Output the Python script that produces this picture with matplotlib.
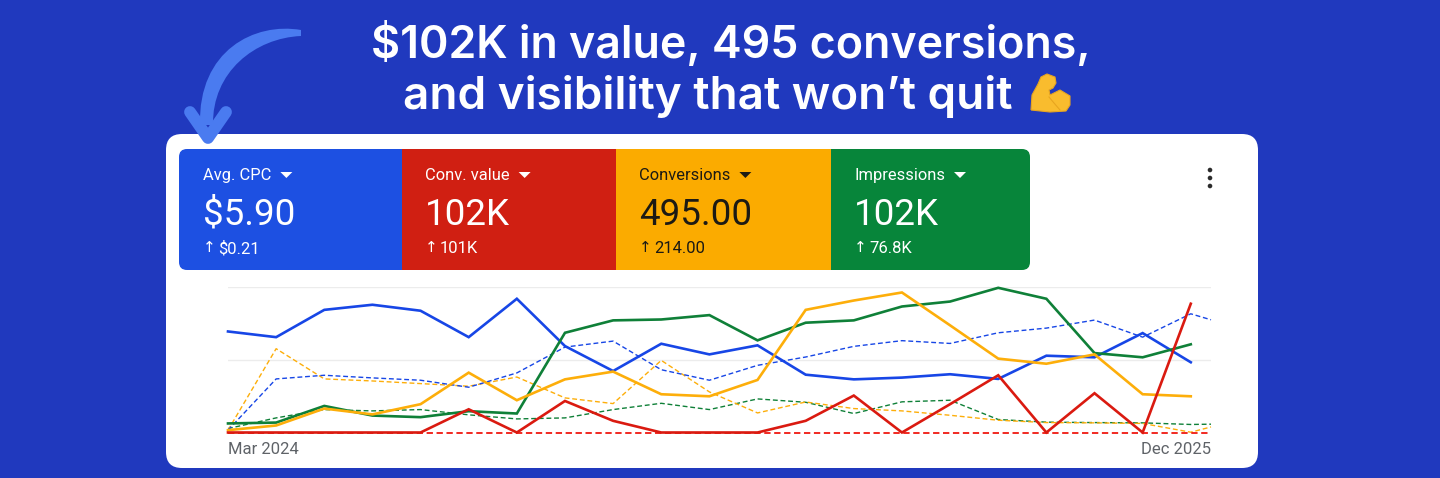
import matplotlib
matplotlib.use('Agg')
import matplotlib.pyplot as plt
from matplotlib.patches import FancyBboxPatch, Rectangle, Polygon, PathPatch, Circle
from matplotlib.path import Path

# chart series, 0-100 of the chart height
months = list(range(21))
extra_x = 20.42
blue = [69.2, 65.3, 84.0, 87.5, 83.4, 65.3, 91.6, 59.2, 42.1, 60.8, 53.5, 59.7, 39.6, 36.4, 37.6, 39.9, 36.7, 52.6, 51.5, 68.1, 48.1]
red = [0, 0, 0, 0, 0, 15.9, 0, 21.6, 8.0, 0, 0, 0, 8.0, 25.3, 0, 19.4, 39.2, 0, 26.9, 0, 88.2]
orange = [1.6, 4.8, 16.4, 12.4, 19.4, 41.0, 22.1, 36.4, 41.7, 26.2, 24.8, 36.0, 84.0, 90.4, 95.9, 73.4, 50.6, 47.1, 53.5, 26.2, 24.8]
green = [6.2, 6.8, 18.2, 11.6, 10.5, 14.6, 13.0, 68.3, 76.8, 77.4, 80.4, 63.1, 75.2, 76.8, 86.3, 89.7, 99.1, 91.6, 54.4, 51.5, 60.4]
blue_prev = [1.6, 36.7, 39.2, 37.4, 35.8, 31.0, 40.8, 58.5, 62.6, 43.0, 35.8, 46.0, 51.7, 59.0, 62.9, 61.0, 68.3, 71.5, 77.0, 65.3, 81.3, 77.2]
red_prev = [0] * 22
orange_prev = [1.6, 57.4, 36.7, 35.3, 33.5, 31.7, 38.0, 23.7, 19.8, 49.4, 27.8, 13.4, 20.9, 16.4, 14.8, 11.8, 8.4, 6.8, 6.6, 6.2, 0.2, 3.8]
green_prev = [2.7, 10.0, 15.7, 14.8, 15.7, 12.1, 9.3, 10.0, 15.7, 20.0, 15.7, 23.0, 20.7, 13.0, 21.0, 22.1, 8.9, 7.1, 6.8, 6.6, 5.5, 5.7]

x_labels = ['Mar 2024', 'Dec 2025']
metric_names = ['Avg. CPC', 'Conv. value', 'Conversions', 'Impressions']
metric_values = ['$5.90', '102K', '495.00', '102K']
metric_deltas = ['$0.21', '101K', '214.00', '76.8K']

BG = '#2039BE'
BLUE = '#1D50E2'
RED = '#D01F12'
YELLOW = '#FBAB00'
GREEN = '#07853A'
LINE_BLUE = '#1746E6'
LINE_RED = '#DA1A10'
LINE_YELLOW = '#FDAE0A'
LINE_GREEN = '#0F8038'
FONT = ['Roboto', 'DejaVu Sans']

fig = plt.figure(figsize=(14.4, 4.78), dpi=100, facecolor=BG)
bg = fig.add_axes([0, 0, 1, 1])
bg.set_xlim(0, 1440)
bg.set_ylim(478, 0)
bg.axis('off')

# white card
bg.add_patch(FancyBboxPatch((166, 134), 1092, 334, boxstyle='round,pad=0,rounding_size=16',
                            fc='white', ec='none', zorder=1))

# title
bg.text(731, 44, '$102K in value, 495 conversions,', color='white', fontsize=32.2, fontweight='semibold',
        family='Inter', ha='center', va='center', zorder=3)
bg.text(708, 96, 'and visibility that won’t quit', color='white', fontsize=33, fontweight='semibold',
        family='Inter', ha='center', va='center', zorder=3)

# metric tiles
tile_left = [179, 402, 616, 831]
tile_right = [402, 616, 831, 1030]
tile_colors = [BLUE, RED, YELLOW, GREEN]
tile_text = ['white', 'white', '#1c1a14', 'white']
text_x = [203, 425, 639, 854]
clip = FancyBboxPatch((179, 149), 851, 121, boxstyle='round,pad=0,rounding_size=8',
                      fc='none', ec='none', transform=bg.transData)
bg.add_patch(clip)
for i in range(4):
    r = Rectangle((tile_left[i], 149), tile_right[i] - tile_left[i], 121, fc=tile_colors[i], ec='none', zorder=2)
    bg.add_patch(r)
    r.set_clip_path(clip)
    tx = text_x[i]
    c = tile_text[i]
    nm = bg.text(tx, 175.5, metric_names[i], color=c, fontsize=11.9, family=FONT, va='center', zorder=3)
    bg.text(tx, 215, metric_values[i], color=c, fontsize=26.5, family=FONT, va='center', zorder=3)
    bg.text(tx, 248, '↑', color=c, fontsize=11, family=FONT, va='center', zorder=3)
    bg.text(tx + 15, 248.5, metric_deltas[i], color=c, fontsize=12, family=FONT, va='center', zorder=3)
    fig.canvas.draw()
    box = nm.get_window_extent().transformed(bg.transData.inverted())
    tri_x = box.x1 + 15
    bg.add_patch(Polygon([(tri_x - 6, 172), (tri_x + 6, 172), (tri_x, 178)], fc=c, ec='none', zorder=3))

# menu dots
for dot_y in [170, 178, 186]:
    bg.add_patch(Circle((1210, dot_y), 2.3, fc='#2b2b2b', ec='none', zorder=3))

# curved arrow
arrow = Path([(301, 30), (255, 22), (198, 50), (200, 125), (213, 125), (212, 72), (255, 38), (301, 36), (301, 30)],
             [Path.MOVETO, Path.CURVE4, Path.CURVE4, Path.CURVE4, Path.LINETO, Path.CURVE4, Path.CURVE4, Path.CURVE4,
              Path.CLOSEPOLY])
bg.add_patch(PathPatch(arrow, fc='#4A7BF0', ec='none', zorder=4))
bg.plot([190, 208, 226], [112, 138, 112], color='#4A7BF0', lw=8.5, solid_capstyle='round',
        solid_joinstyle='round', zorder=4)

# flexed arm emoji, no installed font has it
bg.add_patch(PathPatch(Path([(1031, 110), (1032, 95), (1038, 84), (1041, 77), (1047, 74), (1055, 77), (1056, 83),
                            (1053, 88), (1049, 90), (1050, 95), (1060, 90), (1070, 96), (1070, 105), (1066, 111),
                            (1050, 112), (1031, 110)]),
                       fc='#F9BC2E', ec='#E8A51F', lw=0.8, zorder=3))
bg.plot([1049, 1054, 1060], [97, 103, 110], color='#E8A51F', lw=0.8, zorder=4)

# line chart
ax = fig.add_axes([228 / 1440, 1 - 432.5 / 478, (1211 - 228) / 1440, (432.5 - 286.5) / 478])
ax.patch.set_alpha(0)
ax.set_xlim(0, extra_x)
ax.set_ylim(0, 100)
for s in ax.spines.values():
    s.set_visible(False)
ax.set_xticks([])
ax.set_yticks([50, 100])
ax.tick_params(left=False, labelleft=False)
ax.grid(axis='y', color='#ececec', lw=1)
ax.set_axisbelow(True)

x_prev = months + [extra_x]
for vals, col, w in [(green_prev, LINE_GREEN, 1.0), (orange_prev, LINE_YELLOW, 1.0), (blue_prev, LINE_BLUE, 1.0),
                     (red_prev, '#F01810', 1.3)]:
    ax.plot(x_prev, vals, color=col, lw=w, ls=(0, (3.5, 2)), clip_on=False)
for vals, col in [(blue, LINE_BLUE), (green, LINE_GREEN), (orange, LINE_YELLOW), (red, LINE_RED)]:
    ax.plot(months, vals, color=col, lw=1.9, clip_on=False, solid_joinstyle='miter')

bg.text(228, 450, x_labels[0], color='#5f6368', fontsize=12, family=FONT, va='center', ha='left', zorder=3)
bg.text(1211, 450, x_labels[1], color='#5f6368', fontsize=12, family=FONT, va='center', ha='right', zorder=3)

fig.savefig('out.png', dpi=100, facecolor=BG)
